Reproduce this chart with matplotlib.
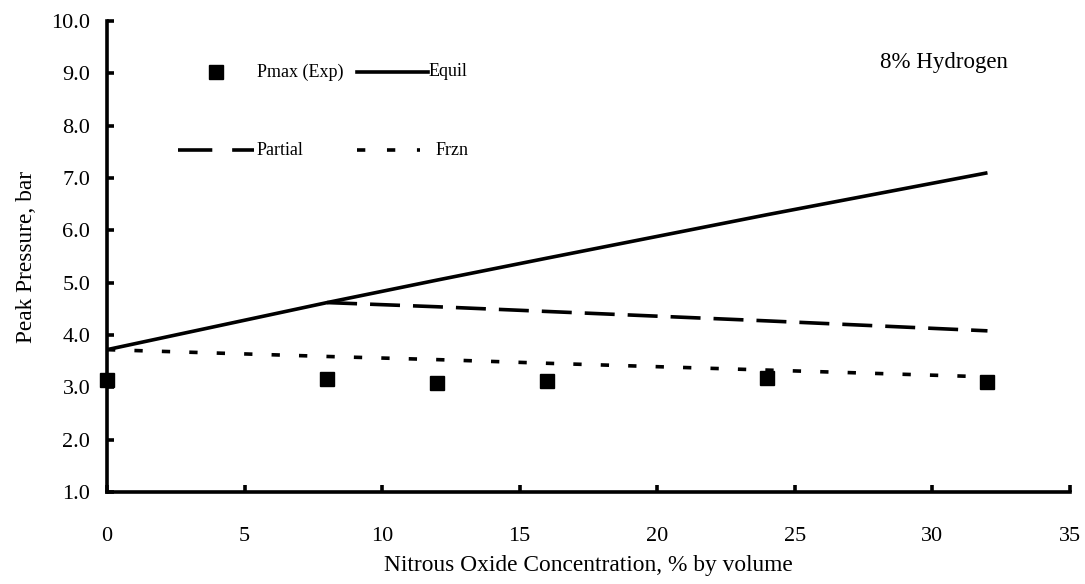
import matplotlib
matplotlib.use("Agg")
import matplotlib.pyplot as plt
from matplotlib.lines import Line2D

# nitrous oxide concentration, % by volume
n2o = [0, 8, 12, 16, 24, 32]
pmax_exp = [3.14, 3.16, 3.08, 3.12, 3.18, 3.10]
p_equil = [3.72, 4.62, 5.05, 5.47, 6.30, 7.10]
p_frzn = [3.72, 3.59, 3.53, 3.46, 3.33, 3.20]

n2o_partial = [8, 12, 16, 24, 32]
p_partial = [4.62, 4.54, 4.45, 4.27, 4.08]

x_ticks = [0, 5, 10, 15, 20, 25, 30, 35]
y_ticks = [1.0, 2.0, 3.0, 4.0, 5.0, 6.0, 7.0, 8.0, 9.0, 10.0]

plt.rcParams['font.family'] = ['Liberation Serif', 'DejaVu Serif']

fig = plt.figure(figsize=(10.85, 5.84), dpi=100)
ax = fig.add_axes([0.0986, 0.1575, 0.8876, 0.8065])

lw = 2.6
partial_dash = (8.3, 3.6)
frzn_dash = (2.3, 5.3)

ax.plot(n2o, p_equil, '-', color='black', lw=lw, solid_capstyle='butt')
ax.plot(n2o_partial, p_partial, color='black', lw=lw, dashes=partial_dash)
ax.plot(n2o, p_frzn, color='black', lw=lw, dashes=frzn_dash)
ax.plot(n2o, pmax_exp, 's', color='black', ms=10, clip_on=False, zorder=5)

ax.set_xlim(0, 35)
ax.set_ylim(1.0, 10.0)
ax.set_xticks(x_ticks)
ax.set_yticks(y_ticks)
ax.set_yticklabels(["{:.1f}".format(v) for v in y_ticks])

for side in ['top', 'right']:
    ax.spines[side].set_visible(False)
for side in ['left', 'bottom']:
    ax.spines[side].set_linewidth(2.6)

ax.tick_params(direction='in', length=5, width=2.6, labelsize=16, pad=12)
ax.tick_params(axis='x', pad=25)

ax.set_xlabel('Nitrous Oxide Concentration, % by volume', fontsize=16.8, labelpad=7)
ax.set_ylabel('Peak Pressure, bar', fontsize=16.8, labelpad=10)

# hand-placed key, two rows of two entries
tr = ax.transAxes
ax.add_line(Line2D([0.113], [0.892], marker='s', color='black', ms=10, transform=tr))
ax.text(0.156, 0.892, 'Pmax (Exp)', transform=tr, fontsize=13, va='center')
ax.add_line(Line2D([0.260, 0.333], [0.892, 0.892], color='black', lw=lw, transform=tr))
ax.text(0.334, 0.892, 'Equil', transform=tr, fontsize=13, va='center')
ax.add_line(Line2D([0.074, 0.153], [0.726, 0.726], color='black', lw=lw,
                   dashes=(9.5, 5.5), transform=tr))
ax.text(0.155, 0.726, 'Partial', transform=tr, fontsize=13, va='center')
ax.add_line(Line2D([0.260, 0.325], [0.726, 0.726], color='black', lw=lw,
                   dashes=(2.3, 6.0), transform=tr))
ax.text(0.341, 0.726, 'Frzn', transform=tr, fontsize=13, va='center')

ax.text(0.803, 0.911, '8% Hydrogen', transform=tr, fontsize=16.5, va='center')

fig.savefig('out.png', dpi=100)
